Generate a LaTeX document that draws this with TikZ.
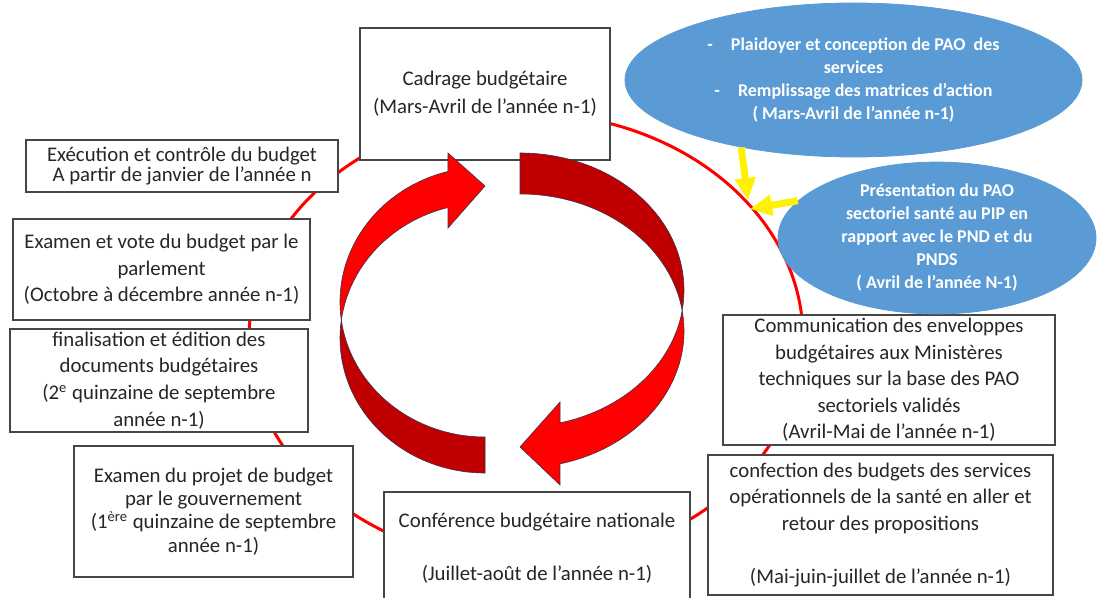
\documentclass[tikz,border=0pt]{standalone}
\usepackage{fontspec}
\setmainfont{Carlito}
\usepackage{tikz}
\usetikzlibrary{shapes.geometric, arrows.meta, positioning}
\definecolor{ringred}{RGB}{255,0,0}
\definecolor{darkred}{RGB}{192,0,0}
\definecolor{bubbleblue}{RGB}{91,155,213}
\definecolor{boxgray}{RGB}{70,70,70}
\definecolor{arrowedge}{RGB}{60,50,80}

\begin{document}
\begin{tikzpicture}[x=0.5pt, y=-0.5pt,
    stage/.style={draw=boxgray, line width=0.8pt, fill=white, align=center,
        inner sep=0pt, text=black!85, font=\fontsize{10.4}{13.3}\selectfont},
    bubble/.style={ellipse, fill=bubbleblue, draw=bubbleblue, align=center,
        inner sep=0pt, text=white, font=\fontsize{9}{11.5}\selectfont\bfseries},
    ring/.style={draw=ringred, line width=1.5pt},
    swoosh/.style={draw=arrowedge, line width=0.3pt},
    pointer/.style={draw=yellow, line width=3.5pt, -{Triangle[length=11pt, width=10pt]}}]

  \useasboundingbox (0,0) rectangle (1097,598);

  % Cycle ring
  \draw[ring] (526,338) ellipse [x radius=277, y radius=225];

  % Stages
  \node[stage, minimum width=125pt, minimum height=66pt] (cadrage) at (485,94)
      {Cadrage budgétaire\\[0.7pt](Mars-Avril de l’année n-1)};
  \node[stage, minimum width=156pt, minimum height=26pt,
        font=\fontsize{10.4}{9.7}\selectfont] (execution) at (182,166)
      {Exécution et contrôle du budget\\A partir de janvier de l’année n};
  \node[stage, minimum width=148.5pt, minimum height=50.5pt] (vote) at (161.5,269.5)
      {Examen et vote du budget par le\\parlement\\(Octobre à décembre année n-1)};
  \node[stage, minimum width=149pt, minimum height=51.5pt] (finalisation) at (159,380.5)
      {finalisation et édition des\\documents budgétaires\\(2\textsuperscript{e} quinzaine de septembre\\année n-1)};
  \node[stage, minimum width=139.5pt, minimum height=65.5pt,
        font=\fontsize{10.4}{11.7}\selectfont] (gouvernement) at (213.5,511.5)
      {Examen du projet de budget\\par le gouvernement\\(1\textsuperscript{ère} quinzaine de septembre\\année n-1)};
  \node[stage, minimum width=153pt, minimum height=56.5pt] (conference) at (537,548.5)
      {Conférence budgétaire nationale\\[13.3pt](Juillet-août de l’année n-1)};
  \node[stage, minimum width=166pt, minimum height=65pt] (communication) at (889,380)
      {Communication des enveloppes\\budgétaires aux Ministères\\techniques sur la base des PAO\\sectoriels validés\\(Avril-Mai de l’année n-1)};
  \node[stage, minimum width=172.5pt, minimum height=70pt] (confection) at (880.5,525)
      {confection des budgets des services\\opérationnels de la santé en aller et\\retour des propositions\\[13.3pt](Mai-juin-juillet de l’année n-1)};

  % Side bubbles
  \node[bubble, minimum width=228.5pt, minimum height=77pt] (plaidoyer) at (853.5,80)
      {-\hspace{9pt}Plaidoyer et conception de PAO\ \ des\\services\\-\hspace{9pt}Remplissage des matrices d’action\\( Mars-Avril de l’année n-1)};
  \node[bubble, minimum width=159pt, minimum height=75.5pt] (presentation) at (937,238)
      {Présentation du PAO\\sectoriel santé au PIP en\\rapport avec le PND et du\\PNDS\\( Avril de l’année N-1)};

  % Yellow pointers onto the ring
  \coordinate (hitA) at (748,200);
  \coordinate (hitB) at (750,209);
  \draw[pointer] (plaidoyer.211) -- (hitA);
  \draw[pointer] (presentation.165) -- (hitB);

  % Left circular arrow
  \fill[darkred, swoosh] (485,338) ++(187.7:145 and 135)
      arc[start angle=187.7, end angle=90, x radius=145, y radius=135] -- (485,437)
      arc[start angle=90, end angle=172.3, x radius=145, y radius=135] -- cycle;
  \fill[ringred, swoosh] (485,302) ++(172.3:145 and 135)
      arc[start angle=172.3, end angle=255.2, x radius=145, y radius=135]
      -- (448,153) -- (485,186) -- (448,228) -- (448,207.5)
      arc[start angle=255.2, end angle=187.7, x radius=145, y radius=135] -- cycle;

  % Right circular arrow
  \fill[darkred, swoosh] (520,153)
      arc[start angle=270, end angle=368.6, x radius=164, y radius=137]
      arc[start angle=351.4, end angle=270, x radius=164, y radius=137] -- cycle;
  \fill[ringred, swoosh] (520,331) ++(351.4:164 and 137)
      arc[start angle=351.4, end angle=435.9, x radius=164, y radius=137]
      -- (560,485) -- (520,447) -- (560,402) -- (560,422.9)
      arc[start angle=75.9, end angle=8.6, x radius=164, y radius=137] -- cycle;
\end{tikzpicture}
\end{document}
